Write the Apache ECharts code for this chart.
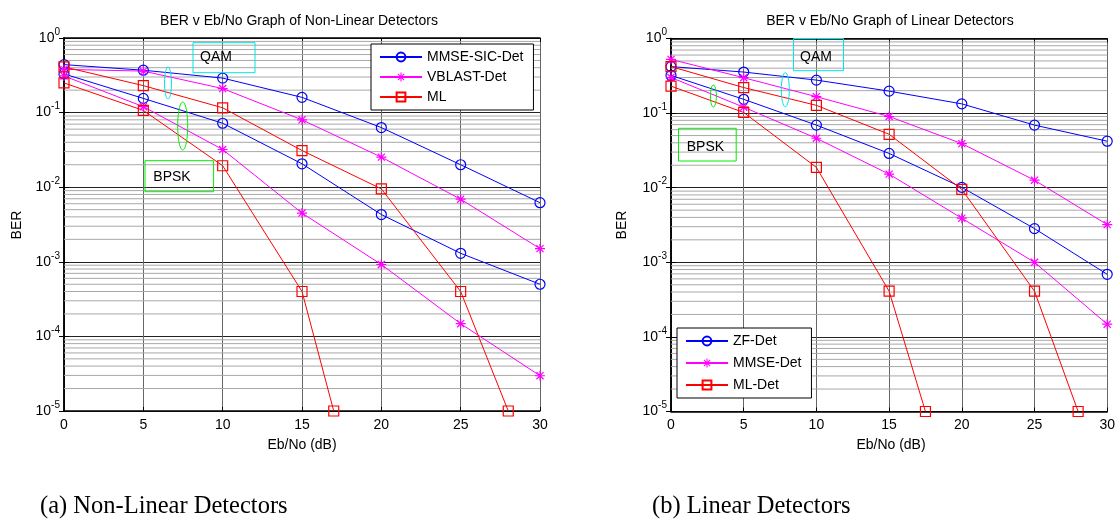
<!DOCTYPE html>
<html><head><meta charset="utf-8">
<script src="https://cdn.jsdelivr.net/npm/echarts@6/dist/echarts.min.js"></script>
<style>html,body{margin:0;padding:0;background:#fff}#c{width:1118px;height:519px}</style>
</head><body><div id="c"></div><script>
// ---- Data ----
const snr = [0, 5, 10, 15, 20, 25, 30];
const xTicks = [0, 5, 10, 15, 20, 25, 30];
// (a) Non-linear detectors
const mmseSicQam  = [0.44, 0.37, 0.29, 0.16, 0.063, 0.020, 0.0062];
const mmseSicBpsk = [0.33, 0.155, 0.072, 0.0206, 0.0043, 0.0013, 0.0005];
const vblastQam   = [0.38, 0.36, 0.21, 0.080, 0.0253, 0.0069, 0.0015];
const vblastBpsk  = [0.31, 0.12, 0.032, 0.0045, 0.00092, 0.000148, 0.0000297];
const mlQamX  = [0, 5, 10, 15, 20, 25, 28];
const mlQam   = [0.41, 0.23, 0.116, 0.031, 0.0095, 0.0004, 0.00001];
const mlBpskX = [0, 5, 10, 15, 17];
const mlBpsk  = [0.25, 0.107, 0.0194, 0.0004, 0.00001];
// (b) Linear detectors
const zfQam    = [0.42, 0.355, 0.277, 0.197, 0.133, 0.069, 0.042];
const zfBpsk   = [0.32, 0.153, 0.069, 0.0288, 0.0101, 0.00283, 0.00069];
const mmseQam  = [0.525, 0.298, 0.166, 0.090, 0.039, 0.0126, 0.0032];
const mmseBpsk = [0.30, 0.12, 0.046, 0.0152, 0.0039, 0.001, 0.000148];
const mlDetQamX  = [0, 5, 10, 15, 20, 25, 28];
const mlDetQam   = [0.42, 0.22, 0.127, 0.052, 0.0095, 0.00041, 0.00001];
const mlDetBpskX = [0, 5, 10, 15, 17.5];
const mlDetBpsk  = [0.23, 0.102, 0.0187, 0.00041, 0.00001];
const legendLeft  = ['MMSE-SIC-Det', 'VBLAST-Det', 'ML'];
const legendRight = ['ZF-Det', 'MMSE-Det', 'ML-Det'];
const titles = ['BER v Eb/No Graph of Non-Linear Detectors', 'BER v Eb/No Graph of Linear Detectors'];
const captions = ['(a) Non-Linear Detectors', '(b) Linear Detectors'];

// ---- Helpers ----
const FONT = 'Liberation Sans, Arial, sans-serif';
const SERIF = 'Liberation Serif, Times New Roman, serif';
const zip = (xs, ys) => xs.map((x, i) => [x, ys[i]]);
const BLUE = '#0000ff', MAG = '#ff00ff', RED = '#ff0000';
const STAR = 'path://M-1,-0.12L1,-0.12L1,0.12L-1,0.12Z M-0.12,-1L0.12,-1L0.12,1L-0.12,1Z M-0.622,-0.792L0.792,0.622L0.622,0.792L-0.792,-0.622Z M0.622,-0.792L0.792,-0.622L-0.622,0.792L-0.792,0.622Z';
// minor log grid positions (2..9 x 10^d)
const minorGrid = [];
for (let d = -5; d <= -1; d++) for (let k = 2; k <= 9; k++) {
  const v = k * Math.pow(10, d);
  minorGrid.push([0, v], [30, v], [30, '-']);
}

function mk(name, gi, data, color, shape) {
  return {
    name, type: 'line', xAxisIndex: gi * 2, yAxisIndex: gi * 2, data,
    symbol: shape === 'star' ? STAR : shape, symbolSize: shape === 'star' ? 10 : 10,
    lineStyle: { color, width: 1 }, color,
    itemStyle: shape === 'star' ? { color } : { color: 'rgba(0,0,0,0)', borderColor: color, borderWidth: 1.2 },
    emphasis: { disabled: true }, z: 3
  };
}
function gridSeries(gi) {
  return {
    name: '_grid' + gi, type: 'line', xAxisIndex: gi * 2, yAxisIndex: gi * 2,
    data: minorGrid, z: 1, silent: true, symbol: 'none', connectNulls: false,
    lineStyle: { color: '#a8a8a8', width: 1 }, emphasis: { disabled: true }, tooltip: { show: false }
  };
}
function xAxes(gi) {
  const base = { type: 'value', min: 0, max: 30, interval: 5, gridIndex: gi };
  return [
    Object.assign({}, base, {
      position: 'bottom',
      axisLine: { show: true, lineStyle: { color: '#000', width: 1.5 } },
      axisTick: { show: true, inside: true, length: 4, lineStyle: { color: '#000' } },
      axisLabel: { color: '#000', fontSize: 14, fontFamily: FONT, margin: 7,
        formatter: v => xTicks.includes(v) ? String(v) : '' },
      splitLine: { show: true, lineStyle: { color: '#666', width: 1 } }
    }),
    Object.assign({}, base, {
      position: 'top',
      axisLine: { show: true, lineStyle: { color: '#000', width: 1.5 } },
      axisTick: { show: true, inside: true, length: 4, lineStyle: { color: '#000' } },
      axisLabel: { show: false }, splitLine: { show: false }
    })
  ];
}
function yAxes(gi) {
  const base = { type: 'log', logBase: 10, min: 1e-5, max: 1, splitNumber: 5, gridIndex: gi };
  return [
    Object.assign({}, base, {
      position: 'left',
      axisLine: { show: true, lineStyle: { color: '#000', width: 1.5 } },
      axisTick: { show: true, inside: true, length: 5, lineStyle: { color: '#000' } },
      axisLabel: {
        margin: 4, color: '#000',
        formatter: v => '{b|10}{s|' + Math.round(Math.log10(v)) + '}',
        rich: {
          b: { fontSize: 14, fontFamily: FONT, color: '#000' },
          s: { fontSize: 10, fontFamily: FONT, color: '#000', padding: [0, 0, 12, 0] }
        }
      },
      splitLine: { show: true, lineStyle: { color: '#222', width: 1.2 } }
    }),
    Object.assign({}, base, {
      position: 'right',
      axisLine: { show: true, lineStyle: { color: '#000', width: 1.5 } },
      axisTick: { show: true, inside: true, length: 5, lineStyle: { color: '#000' } },
      axisLabel: { show: false }, splitLine: { show: false }
    })
  ];
}
function legend(names, left, top, gap) {
  return {
    data: names, orient: 'vertical', left, top, backgroundColor: '#fff',
    borderColor: '#000', borderWidth: 1, borderRadius: 0, padding: [6, 10, 6, 8],
    itemGap: gap, itemWidth: 42, itemHeight: 11, selectedMode: false,
    textStyle: { fontSize: 14, color: '#000', fontFamily: FONT }
  };
}
function txt(t, x, y, size, extra, family, align) {
  return Object.assign({ type: 'text', x, y, z: 10,
    style: { text: t, fontSize: size, fontFamily: family || FONT, fill: '#000', textAlign: align || 'center', textVerticalAlign: 'middle' } }, extra || {});
}
function box(x, y, w, h, color) {
  return { type: 'rect', z: 10, shape: { x, y, width: w, height: h }, style: { fill: 'none', stroke: color, lineWidth: 1 } };
}
function ell(cx, cy, rx, ry, color) {
  return { type: 'ellipse', z: 10, shape: { cx, cy, rx, ry }, style: { fill: 'none', stroke: color, lineWidth: 1 } };
}

const option = {
  animation: false,
  backgroundColor: '#fff',
  grid: [
    { left: 64, top: 38, width: 476, height: 373 },
    { left: 671, top: 38.5, width: 441, height: 373 }
  ],
  xAxis: [...xAxes(0), ...xAxes(1)],
  yAxis: [...yAxes(0), ...yAxes(1)],
  legend: [legend(legendLeft, 371, 44, 6), legend(legendRight, 677, 328, 8)],
  series: [
    gridSeries(0), gridSeries(1),
    mk('MMSE-SIC-Det', 0, zip(snr, mmseSicQam), BLUE, 'circle'),
    mk('MMSE-SIC-Det', 0, zip(snr, mmseSicBpsk), BLUE, 'circle'),
    mk('VBLAST-Det', 0, zip(snr, vblastQam), MAG, 'star'),
    mk('VBLAST-Det', 0, zip(snr, vblastBpsk), MAG, 'star'),
    mk('ML', 0, zip(mlQamX, mlQam), RED, 'rect'),
    mk('ML', 0, zip(mlBpskX, mlBpsk), RED, 'rect'),
    mk('ZF-Det', 1, zip(snr, zfQam), BLUE, 'circle'),
    mk('ZF-Det', 1, zip(snr, zfBpsk), BLUE, 'circle'),
    mk('MMSE-Det', 1, zip(snr, mmseQam), MAG, 'star'),
    mk('MMSE-Det', 1, zip(snr, mmseBpsk), MAG, 'star'),
    mk('ML-Det', 1, zip(mlDetQamX, mlDetQam), RED, 'rect'),
    mk('ML-Det', 1, zip(mlDetBpskX, mlDetBpsk), RED, 'rect')
  ],
  graphic: [
    txt(titles[0], 299, 21, 14),
    txt(titles[1], 890, 21, 14),
    txt('BER', 17, 225, 14, { rotation: Math.PI / 2 }),
    txt('BER', 622, 225, 14, { rotation: Math.PI / 2 }),
    txt('Eb/No (dB)', 302, 445, 14),
    txt('Eb/No (dB)', 891, 445, 14),
    txt(captions[0], 40, 507, 24.5, null, SERIF, 'left'),
    txt(captions[1], 652, 507, 24.5, null, SERIF, 'left'),
    // left annotations
    box(193, 42.7, 62, 30, '#00e5e5'),
    txt('QAM', 216, 57, 14),
    ell(168, 83, 3.5, 16, '#00e5e5'),
    ell(182.7, 126, 5, 24, '#00ee00'),
    box(145, 160.7, 68.6, 31, '#00ee00'),
    txt('BPSK', 172, 177.3, 14),
    // right annotations
    box(793.5, 38.5, 50, 32.2, '#00e5e5'),
    txt('QAM', 816, 56.7, 14),
    ell(785.3, 89.7, 4, 17, '#00e5e5'),
    ell(713.4, 96, 3, 11, '#00ee00'),
    box(678.5, 128.3, 57.7, 32.7, '#00ee00'),
    txt('BPSK', 705.4, 146.7, 14)
  ]
};
const chart = echarts.init(document.getElementById('c'), null, { renderer: 'canvas' });
chart.setOption(option);
</script></body></html>
